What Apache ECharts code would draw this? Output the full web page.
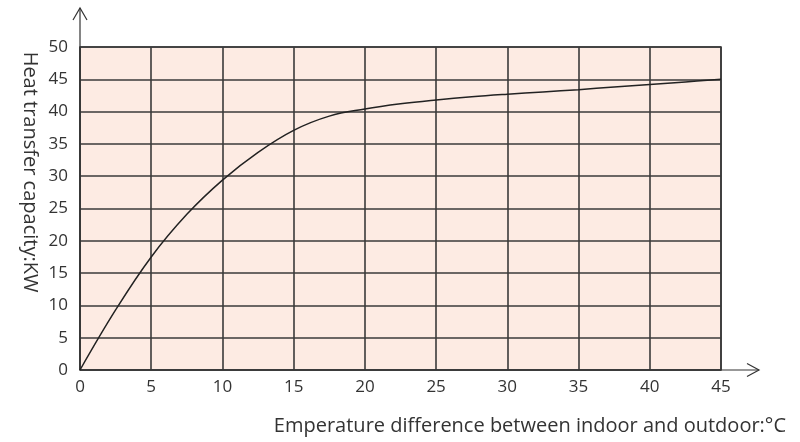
<!DOCTYPE html>
<html>
<head>
<meta charset="utf-8">
<script src="https://cdn.jsdelivr.net/npm/echarts@6/dist/echarts.min.js"></script>
<style>html,body{margin:0;padding:0;background:#fff;}#c{width:800px;height:442px;}</style>
</head>
<body>
<div id="c"></div>
<script>
// Data
var tempDiff = [0, 2.5, 5, 7.5, 10, 12.5, 15, 17.5, 20, 22.5, 25, 27.5, 30, 32.5, 35, 37.5, 40, 42.5, 45];
var capacity = [0, 9.3, 17.5, 24.1, 29.4, 33.7, 37.1, 39.3, 40.4, 41.2, 41.8, 42.3, 42.7, 43.05, 43.4, 43.8, 44.2, 44.6, 45];
var xTicks = [0, 5, 10, 15, 20, 25, 30, 35, 40, 45];
var yTicks = [0, 5, 10, 15, 20, 25, 30, 35, 40, 45, 50];
var xTitle = 'Emperature difference between indoor and outdoor:°C';
var yTitle = 'Heat transfer capacity:KW';

var FONT = 'Open Sans';
var chart = echarts.init(document.getElementById('c'));
var points = tempDiff.map(function (x, i) { return [x, capacity[i]]; });

chart.setOption({
  animation: false,
  grid: {
    left: 80, right: 79, top: 47, bottom: 72,
    show: true, backgroundColor: '#fdebe3', borderColor: '#3a3a3a', borderWidth: 1.6
  },
  xAxis: {
    type: 'value', min: 0, max: 45, interval: 5,
    axisLine: { show: false }, axisTick: { show: false },
    splitLine: { show: true, lineStyle: { color: '#3a3a3a', width: 1.6 } },
    axisLabel: { color: '#333', fontSize: 17, fontFamily: FONT, margin: 9,
      formatter: function (v) { return xTicks.indexOf(v) >= 0 ? String(v) : ''; } }
  },
  yAxis: {
    type: 'value', min: 0, max: 50, interval: 5,
    axisLine: { show: false }, axisTick: { show: false },
    splitLine: { show: true, lineStyle: { color: '#3a3a3a', width: 1.6 } },
    axisLabel: { color: '#333', fontSize: 17, fontFamily: FONT, margin: 12,
      formatter: function (v) { return yTicks.indexOf(v) >= 0 ? String(v) : ''; } }
  },
  series: [{
    type: 'line', data: points, smooth: 0.4, showSymbol: false,
    lineStyle: { color: '#222', width: 1.5 }
  }]
});

var o = chart.convertToPixel({ gridIndex: 0 }, [0, 0]);
var ox = o[0], oy = o[1];
chart.setOption({
  graphic: [
    { type: 'polyline', shape: { points: [[ox, oy], [ox, 8]] }, style: { stroke: '#333', lineWidth: 1.2, fill: null } },
    { type: 'polyline', shape: { points: [[ox - 7, 20], [ox, 8], [ox + 7, 20]] }, style: { stroke: '#333', lineWidth: 1.2, fill: null } },
    { type: 'polyline', shape: { points: [[ox, oy], [759, oy]] }, style: { stroke: '#333', lineWidth: 1.2, fill: null } },
    { type: 'polyline', shape: { points: [[747, oy - 6.5], [759, oy], [747, oy + 6.5]] }, style: { stroke: '#333', lineWidth: 1.2, fill: null } },
    { type: 'text', x: 786, y: 426, style: { text: xTitle, fill: '#333', font: '20px "' + FONT + '"', align: 'right', verticalAlign: 'middle' } },
    { type: 'text', x: 30, y: 172, rotation: -Math.PI / 2, style: { text: yTitle, fill: '#333', font: '20px "' + FONT + '"', align: 'center', verticalAlign: 'middle' } }
  ]
});
</script>
</body>
</html>
